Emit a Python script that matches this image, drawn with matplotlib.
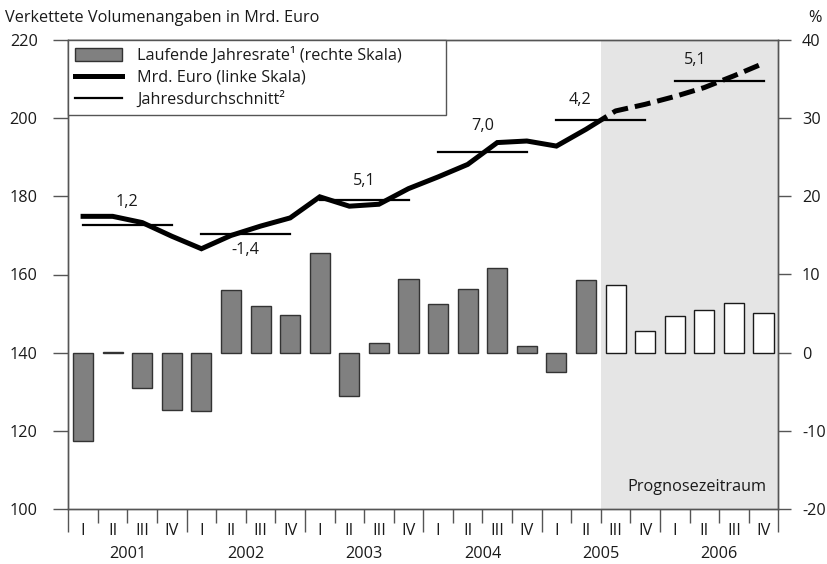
import matplotlib
matplotlib.use("Agg")
import matplotlib.pyplot as plt
from matplotlib.patches import Patch, Rectangle
from matplotlib.lines import Line2D
import matplotlib.transforms as mtransforms

# ---------------- data ----------------
quarters = ["I", "II", "III", "IV"] * 6
years = ["2001", "2002", "2003", "2004", "2005", "2006"]
# running annual rate in % (right scale)
rate = [-11.3, 0.1, -4.5, -7.4, -7.5, 8.0, 6.0, 4.8,
        12.7, -5.5, 1.2, 9.4, 6.2, 8.1, 10.8, 0.9,
        -2.5, 9.3, 8.7, 2.8, 4.7, 5.4, 6.4, 5.1]
# chained volume, bn euro (left scale)
level = [174.9, 174.9, 173.3, 169.8, 166.6, 170.0, 172.4, 174.5,
         179.9, 177.5, 178.0, 182.0, 185.0, 188.2, 193.8, 194.2,
         192.9, 197.2, 201.9, 203.6, 205.6, 207.9, 210.9, 214.1]
annual_avg = [172.6, 170.3, 179.0, 191.4, 199.7, 209.7]
annual_growth = ["1,2", "-1,4", "5,1", "7,0", "4,2", "5,1"]
forecast_start = 18  # first forecast quarter (2005 III)
left_ticks = [100, 120, 140, 160, 180, 200, 220]
right_ticks = [-20, -10, 0, 10, 20, 30, 40]

plt.rcParams["font.family"] = ["Open Sans", "DejaVu Sans"]
plt.rcParams["axes.unicode_minus"] = False
FS = 11.7
TXT = "#1a1a1a"
SPINE = "#555555"

fig = plt.figure(figsize=(8.28, 5.64), dpi=100)
ax2 = fig.add_axes([68.3 / 828, 1 - 508.7 / 564, 710 / 828, 468.4 / 564])
ax = ax2.twinx()
ax.set_zorder(ax2.get_zorder() + 1)
ax.patch.set_visible(False)

n = len(rate)
xs = list(range(n))

# forecast shading
ax2.axvspan(forecast_start - 0.5, n - 0.5, color="#e5e5e5", zorder=0, lw=0)

# bars on right scale
faces = ["#808080" if i < forecast_start else "white" for i in xs]
edges = ["#333333" if i < forecast_start else "#1a1a1a" for i in xs]
ax2.bar(xs, rate, width=0.68, color=faces, edgecolor=edges, linewidth=1.0, zorder=2)

ax.set_xlim(-0.5, n - 0.5)
ax2.set_xlim(-0.5, n - 0.5)
ax.set_ylim(left_ticks[0], left_ticks[-1])
ax2.set_ylim(right_ticks[0], right_ticks[-1])

# line on left scale: solid for actual, dashed for forecast
split = forecast_start - 0.5
solid, = ax.plot(xs, level, color="black", lw=3.6, solid_joinstyle="miter", zorder=3)
dashed, = ax.plot(xs, level, color="black", lw=3.6, ls=(0, (3.2, 1.4)), zorder=3)
r1 = Rectangle((-0.5, 100), split + 0.5, 120, transform=ax.transData, visible=False)
r2 = Rectangle((split, 100), n - 0.5 - split, 120, transform=ax.transData, visible=False)
ax.add_patch(r1)
ax.add_patch(r2)
solid.set_clip_path(r1)
dashed.set_clip_path(r2)

# annual averages with growth labels
offsets = [(0, 16.5), (0, -11), (0, 14), (0, 19), (-15, 14), (-17, 14.5)]
for k, (avg, g) in enumerate(zip(annual_avg, annual_growth)):
    x0, x1 = 4 * k, 4 * k + 3
    ax.plot([x0, x1], [avg, avg], color="black", lw=1.6, zorder=4)
    ax.annotate(g, xy=((x0 + x1) / 2, avg), xytext=offsets[k], textcoords="offset points",
                ha="center", va="center", fontsize=FS, color=TXT, zorder=5)

# axes styling
for a in (ax, ax2):
    for s in a.spines.values():
        s.set_color(SPINE)
        s.set_linewidth(1.0)

ax.set_yticks(left_ticks)
ax2.set_yticks(right_ticks)
ax.yaxis.tick_left()
ax2.yaxis.tick_right()
ax.tick_params(axis="y", direction="out", length=11, width=1, color=SPINE,
               labelsize=FS, labelcolor=TXT, pad=11)
ax2.tick_params(axis="y", direction="out", length=9, width=1, color=SPINE,
                labelsize=FS, labelcolor=TXT, pad=8)

# x ticks: quarter separators, longer at year boundaries
bounds = [i - 0.5 for i in range(n + 1)]
ax.set_xticks([])
ax2.set_xticks([b for b in bounds if (b + 0.5) % 4 != 0])
ax2.set_xticks([b for b in bounds if (b + 0.5) % 4 == 0], minor=True)
ax2.tick_params(axis="x", which="major", direction="out", length=10, width=1,
                color=SPINE, labelbottom=False)
ax2.tick_params(axis="x", which="minor", direction="out", length=16.5, width=1,
                color=SPINE, labelbottom=False)

blend = mtransforms.blended_transform_factory(ax2.transData, ax2.transAxes)
for i, q in enumerate(quarters):
    ax2.text(i, -0.048, q, transform=blend, ha="center", va="center",
             fontsize=FS, color=TXT, clip_on=False)
for k, y in enumerate(years):
    ax2.text(4 * k + 1.5, -0.097, y, transform=blend, ha="center", va="center",
             fontsize=FS, color=TXT, clip_on=False)

ax2.text(20.75, -17.2, "Prognosezeitraum", ha="center", va="center",
         fontsize=FS, color=TXT, zorder=3)

fig.text(5 / 828, 1 - 18 / 564, "Verkettete Volumenangaben in Mrd. Euro",
         ha="left", va="center", fontsize=FS, color=TXT)
fig.text(815 / 828, 1 - 18 / 564, "%", ha="center", va="center", fontsize=FS, color=TXT)

handles = [Patch(facecolor="#808080", edgecolor="#333333", lw=1.0),
           Line2D([], [], color="black", lw=3.6),
           Line2D([], [], color="black", lw=1.6)]
labels = ["Laufende Jahresrate\u00b9 (rechte Skala)", "Mrd. Euro (linke Skala)",
          "Jahresdurchschnitt\u00b2"]
leg = ax.legend(handles, labels, loc="upper left",
                bbox_to_anchor=(0, 1, (446 - 68.3) / 710, 0), mode="expand",
                borderaxespad=0, fancybox=False, frameon=True, fontsize=FS,
                handlelength=2.9, handleheight=0.9, handletextpad=0.9,
                labelspacing=0.32, borderpad=0.42, labelcolor=TXT)
leg.get_frame().set_edgecolor(SPINE)
leg.get_frame().set_linewidth(1.0)
leg.get_frame().set_alpha(1)
leg.set_zorder(10)

fig.savefig("out.png", dpi=100)
